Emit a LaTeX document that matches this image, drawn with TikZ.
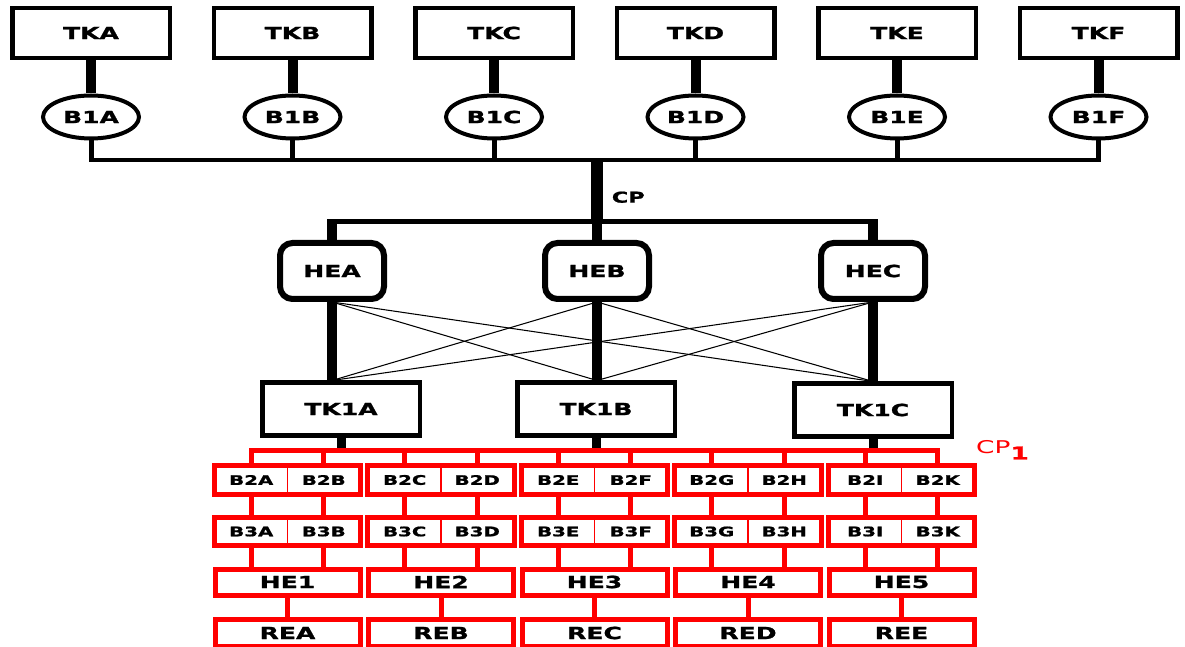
\documentclass[tikz,border=0pt]{standalone}
\usepackage{fontspec}
\newfontfamily\diagfont[FakeStretch=1.5,BoldFeatures={FakeBold=1.2}]{DejaVu Sans}
\usepackage{tikz}
\usetikzlibrary{shapes.geometric,positioning}
\definecolor{busred}{RGB}{255,0,0}

\begin{document}
\begin{tikzpicture}[
    tkbox/.style={draw,line width=0.09cm,minimum width=3.15cm,minimum height=1.0cm,
                inner sep=0pt,font=\diagfont\bfseries\fontsize{9.5}{10}\selectfont},
    bubble/.style={draw,ellipse,line width=0.08cm,minimum width=1.92cm,minimum height=0.86cm,
                inner sep=0pt,font=\diagfont\bfseries\fontsize{9.5}{10}\selectfont},
    hebox/.style={draw,rounded corners=0.25cm,line width=0.12cm,minimum width=2.08cm,
                minimum height=1.12cm,font=\diagfont\bfseries\fontsize{9.5}{10}\selectfont},
    subbox/.style={draw=busred,line width=0.03cm,minimum width=1.45cm,minimum height=0.54cm,
                inner sep=0pt,font=\diagfont\bfseries\fontsize{7.5}{8}\selectfont},
    redbox/.style={draw=busred,line width=0.1cm,minimum width=2.9cm,minimum height=0.52cm,
                inner sep=0pt,font=\diagfont\bfseries\fontsize{9.5}{10}\selectfont},
    redframe/.style={draw=busred,line width=0.1cm},
    redlink/.style={busred,line width=0.1cm},
    fat/.style={line width=0.2cm},
    xline/.style={line width=0.6pt}
  ]
    \useasboundingbox (0,0) rectangle (23.7,-12.94);
    \coordinate (bus) at (0,-3.2);
    \coordinate (hejoin) at (11.94,-4.44);
    \coordinate (rbus) at (0,-9.0);

    % tanks and first pumps
    \foreach \t [count=\i from 0] in {A,B,C,D,E,F} {
      \node[tkbox] (tk\t) at (1.82+4.03*\i,-0.66) {TK\t};
      \node[bubble] (b1\t) at (1.82+4.03*\i,-2.34) {B1\t};
      \draw[fat] (tk\t.south) -- (b1\t.north);
      \draw[line width=0.1cm] (b1\t.south) -- (b1\t.south |- bus);
    }
    \draw[line width=0.08cm,line cap=rect] (b1A.south |- bus) -- (b1F.south |- bus);

    % heat exchangers
    \node[hebox] (hea) at (6.64,-5.42) {HEA};
    \node[hebox] (heb) at (11.94,-5.42) {HEB};
    \node[hebox] (hec) at (17.46,-5.42) {HEC};
    \draw[line width=0.24cm] (hejoin |- bus) -- node[pos=0.6,right=0.06cm,
        font=\diagfont\bfseries\fontsize{8.5}{9}\selectfont] (cplbl) {CP} (hejoin);
    \draw[line width=0.1cm,line cap=rect] (hea.north |- hejoin) -- (hec.north |- hejoin);
    \draw[fat] (hejoin) -- (heb.north);
    \draw[fat,shorten <=-0.05cm] (hea.north |- hejoin) -- (hea.north);
    \draw[fat,shorten <=-0.05cm] (hec.north |- hejoin) -- (hec.north);

    \node[tkbox,minimum height=1.05cm] (tk1A) at (6.82,-8.18) {TK1A};
    \node[tkbox,minimum height=1.05cm] (tk1B) at (11.92,-8.18) {TK1B};
    \node[tkbox,minimum height=1.05cm] (tk1C) at (17.46,-8.2) {TK1C};
    \draw[fat] (hea.south) -- (hea.south |- tk1A.north);
    \draw[fat] (heb.south) -- (heb.south |- tk1B.north);
    \draw[fat] (hec.south) -- (hec.south |- tk1C.north);
    \draw[xline] (hea.south) -- (heb.south |- tk1B.north);
    \draw[xline] (hea.south) -- (hec.south |- tk1C.north);
    \draw[xline] (heb.south) -- (hea.south |- tk1A.north);
    \draw[xline] (heb.south) -- (hec.south |- tk1C.north);
    \draw[xline] (hec.south) -- (hea.south |- tk1A.north);
    \draw[xline] (hec.south) -- (heb.south |- tk1B.north);
    \draw[line width=0.18cm] (tk1A.south) -- (tk1A.south |- rbus);
    \draw[line width=0.18cm] (tk1B.south) -- (tk1B.south |- rbus);
    \draw[line width=0.18cm] (tk1C.south) -- (tk1C.south |- rbus);

    % second pumps, third pumps, exchangers, reactors
    \foreach \l/\r/\n/\e [count=\i from 0] in {A/B/1/A,C/D/2/B,E/F/3/C,G/H/4/D,I/K/5/E} {
      \node[subbox] (b2\l) at (5.025+3.07*\i,-9.6) {B2\l};
      \node[subbox] (b2\r) at (6.475+3.07*\i,-9.6) {B2\r};
      \draw[redframe] (b2\l.north west) rectangle (b2\r.south east);
      \node[subbox] (b3\l) at (5.025+3.07*\i,-10.63) {B3\l};
      \node[subbox] (b3\r) at (6.475+3.07*\i,-10.63) {B3\r};
      \draw[redframe] (b3\l.north west) rectangle (b3\r.south east);
      \node[redbox] (he\n) at (5.75+3.07*\i,-11.64) {HE\n};
      \node[redbox,minimum height=0.54cm] (re\e) at (5.75+3.07*\i,-12.66) {RE\e};
      \draw[redlink] (b2\l.north |- rbus) -- (b2\l.north);
      \draw[redlink] (b2\r.north |- rbus) -- (b2\r.north);
      \draw[redlink] (b2\l.south) -- (b3\l.north);
      \draw[redlink] (b2\r.south) -- (b3\r.north);
      \draw[redlink] (b3\l.south) -- (b3\l.south |- he\n.north);
      \draw[redlink] (b3\r.south) -- (b3\r.south |- he\n.north);
      \draw[redlink] (he\n.south) -- (re\e.north);
    }
    \draw[redlink,line cap=rect] (b2A.north |- rbus) -- (b2K.north |- rbus);
    \node[anchor=west,text=busred,font=\diagfont\fontsize{10}{11}\selectfont] (cp1)
        at (19.4,-9.0) {CP\raisebox{-0.6ex}{\bfseries 1}};
  \end{tikzpicture}
\end{document}
